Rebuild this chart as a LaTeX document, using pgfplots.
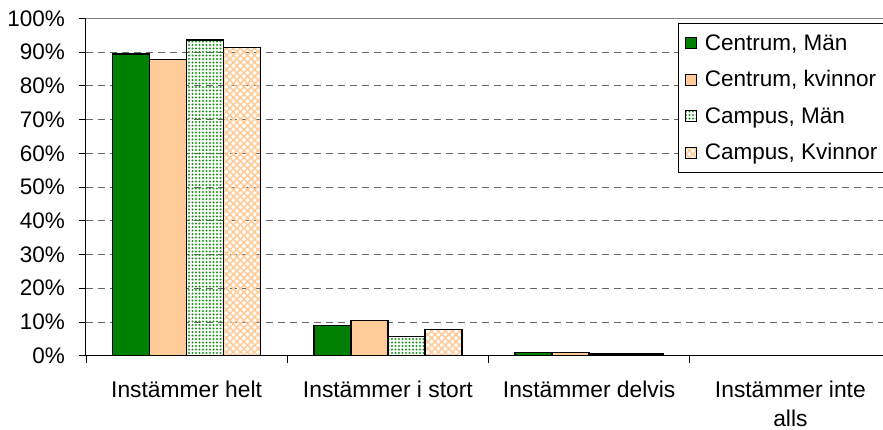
\documentclass[border=0pt]{standalone}
\usepackage{fontspec}
\setmainfont{Liberation Sans}
\usepackage{pgfplots}
\pgfplotsset{compat=1.18}
\usetikzlibrary{patterns.meta}
\definecolor{cgreen}{RGB}{0,128,0}
\definecolor{peach}{RGB}{255,204,153}
\definecolor{dotgreen}{RGB}{30,150,30}
\begin{document}
\begin{tikzpicture}[x=1pt,y=1pt]
\begin{axis}[
  at={(86pt,74.3pt)}, anchor=south west,
  scale only axis, width=805pt, height=337.4pt,
  xmin=-0.5, xmax=3.5, ymin=0, ymax=100,
  ybar=0pt, bar width=37pt,
  xtick={-0.5,0.5,1.5,2.5,3.5},
  x tick label as interval,
  xticklabels={Instämmer helt,Instämmer i stort,Instämmer delvis,{Instämmer inte\\alls}},
  xticklabel style={align=center, inner sep=0pt, yshift=-18pt, font=\fontsize{22.8}{29}\selectfont},
  ytick={0,10,...,100},
  yticklabels={0\%,10\%,20\%,30\%,40\%,50\%,60\%,70\%,80\%,90\%,100\%},
  yticklabel style={inner sep=0pt, xshift=-14pt, font=\fontsize{22.5}{27}\selectfont},
  tick label style={text=black},
  tick align=outside, major tick length=7pt,
  tick style={black, line width=0.8pt},
  axis x line*=bottom, axis y line*=left,
  axis line style={black, line width=1pt},
  ymajorgrids, grid style={dash pattern=on 7pt off 5pt, line width=0.9pt, gray!80!black},
  legend style={at={(0.7354,0.986)}, anchor=north west, draw=black, line width=0.8pt,
    fill=white, inner xsep=4pt, inner ysep=9pt, row sep=15pt,
    font=\fontsize{22.5}{27}\selectfont},
  legend cell align=left,
  legend image code/.code={\draw[#1,draw=black,line width=0.8pt] (2pt,-5.5pt) rectangle (13pt,5.5pt); \path (0pt,0pt) (19pt,0pt);},
]
\draw[gray, line width=1pt] (rel axis cs:0,1) -- (rel axis cs:1,1);
\addplot[fill=cgreen, draw=black, line width=1.4pt] coordinates {(0,89.4) (1,9.0) (2,1.0) (3,0)};
\addplot[fill=peach, draw=black, line width=1.4pt] coordinates {(0,87.7) (1,10.5) (2,1.0) (3,0)};
\addplot[pattern={Dots[distance=3.5pt,radius=1.2pt]}, pattern color=dotgreen, draw=black, line width=1.4pt] coordinates {(0,93.6) (1,5.7) (2,0.5) (3,0)};
\addplot[pattern={Hatch[angle=45,distance=5pt,line width=1.6pt]}, pattern color=peach, draw=black, line width=1.4pt] coordinates {(0,91.3) (1,7.8) (2,0.5) (3,0)};
\legend{{Centrum, Män},{Centrum, kvinnor},{Campus, Män},{Campus, Kvinnor}}
\end{axis}
\pgfresetboundingbox
\useasboundingbox (0,0) rectangle (883pt,430pt);
\end{tikzpicture}
\end{document}
